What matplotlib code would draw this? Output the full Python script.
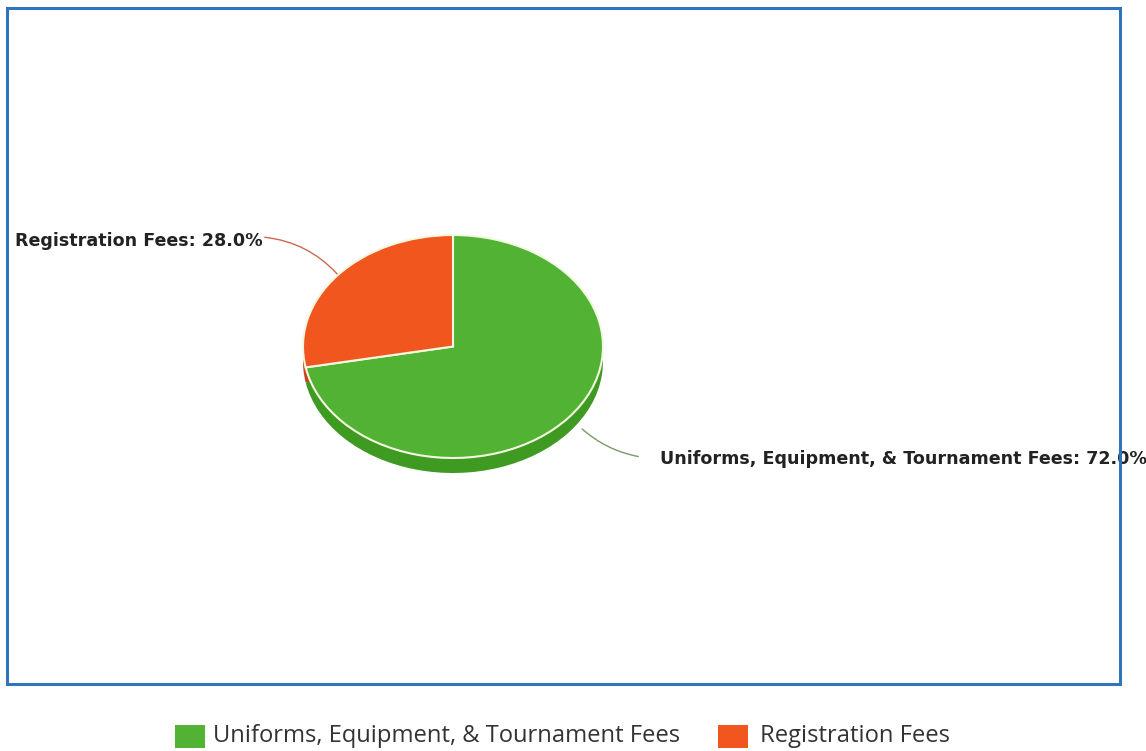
import matplotlib
matplotlib.use("Agg")
import matplotlib.pyplot as plt
from matplotlib.patches import Rectangle, FancyArrowPatch
import numpy as np

categories = ["Uniforms, Equipment, & Tournament Fees", "Registration Fees"]
values = [72.0, 28.0]
colors = ["#52b234", "#f0561d"]
side_colors = ["#3f9a22", "#c9431a"]
label_texts = [f"{c}: {v:.1f}%" for c, v in zip(categories, values)]

W, H = 1146, 751
fig = plt.figure(figsize=(W / 100, H / 100), dpi=100)
fig.patch.set_facecolor("white")

# Pie axes: x -1..1 -> 303..603 px, y 1..-1 -> 235..458 px
px0, px1 = 303, 603
py_top, py_bot = 235, 458
depth_px = 15
ry_px = (py_bot - py_top) / 2
d = depth_px / ry_px
ax = fig.add_axes([px0 / W, 1 - py_bot / H, (px1 - px0) / W, (py_bot - py_top) / H])

# depth: bottom pie + connecting rectangle
ax.pie(values, colors=side_colors, startangle=90, counterclock=False,
       center=(0, -d), radius=1, frame=True,
       wedgeprops=dict(linewidth=0))
ax.add_patch(Rectangle((-1, -d), 2, d, facecolor=side_colors[0], edgecolor="none", zorder=1.5))
wedges, _ = ax.pie(values, colors=colors, startangle=90, counterclock=False,
                   center=(0, 0), radius=1, frame=True,
                   wedgeprops=dict(linewidth=1.5, edgecolor="#f4f8e0"))
for w in wedges:
    w.set_zorder(3)
ax.set_aspect("auto")
ax.set_xlim(-1, 1)
ax.set_ylim(-1, 1)
ax.axis("off")
for a in ax.patches:
    a.set_clip_on(False)

# labels with curved leader lines (in figure pixel coords)
def fp(x, y):
    return (x / W, 1 - y / H)

fig.text(*fp(15, 241), label_texts[1], fontsize=12.6, fontweight="bold",
         family="DejaVu Sans", color="#222222", va="center", ha="left")
fig.text(*fp(660, 459), label_texts[0], fontsize=12.6, fontweight="bold",
         family="DejaVu Sans", color="#222222", va="center", ha="left")

a1 = FancyArrowPatch(fp(262, 237), fp(339, 276), transform=fig.transFigure,
                     connectionstyle="arc3,rad=-0.2", arrowstyle="-",
                     color="#c86a4f", linewidth=1.0)
a2 = FancyArrowPatch(fp(580, 427), fp(641, 457), transform=fig.transFigure,
                     connectionstyle="arc3,rad=0.15", arrowstyle="-",
                     color="#7a9a6a", linewidth=1.0)
fig.add_artist(a1)
fig.add_artist(a2)

# border rectangle
fig.add_artist(Rectangle(fp(7, 684), (1120 - 7) / W, (684 - 8) / H,
                         transform=fig.transFigure, fill=False,
                         edgecolor="#2f74bd", linewidth=2.2, zorder=10))

# legend
lx = [175, 718]
tx = [213, 760]
for i in range(2):
    fig.add_artist(Rectangle(fp(lx[i], 748), 30 / W, 23 / H, transform=fig.transFigure,
                             facecolor=colors[i], edgecolor="none"))
    fig.text(*fp(tx[i], 736), categories[i], fontsize=17.1, family="Open Sans",
             color="#333333", va="center", ha="left")

fig.savefig("out.png", dpi=100)
